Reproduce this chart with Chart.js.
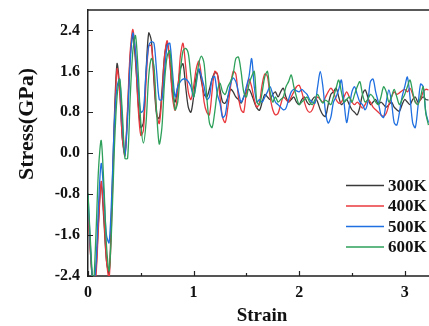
<!DOCTYPE html>
<html>
<head>
<meta charset="utf-8">
<script src="https://cdn.jsdelivr.net/npm/chart.js@4.4.0/dist/chart.umd.min.js"></script>
<style>
  html, body { margin: 0; padding: 0; background: #fff; }
  canvas { display: block; }
</style>
</head>
<body>
<canvas id="stress-chart" width="429" height="326"></canvas>
<script>
/* dados */
var strain = [
  0, 0.025, 0.05, 0.075, 0.1, 0.125, 0.15, 0.175, 0.2, 0.225,
  0.25, 0.275, 0.3, 0.325, 0.35, 0.375, 0.4, 0.425, 0.45, 0.475,
  0.5, 0.525, 0.55, 0.575, 0.6, 0.625, 0.65, 0.675, 0.7, 0.725,
  0.75, 0.775, 0.8, 0.825, 0.85, 0.875, 0.9, 0.925, 0.95, 0.975,
  1.0, 1.025, 1.05, 1.075, 1.1, 1.125, 1.15, 1.175, 1.2, 1.225,
  1.25, 1.275, 1.3, 1.325, 1.35, 1.375, 1.4, 1.425, 1.45, 1.475,
  1.5, 1.525, 1.55, 1.575, 1.6, 1.625, 1.65, 1.675, 1.7, 1.725,
  1.75, 1.775, 1.8, 1.825, 1.85, 1.875, 1.9, 1.925, 1.95, 1.975,
  2.0, 2.025, 2.05, 2.075, 2.1, 2.125, 2.15, 2.175, 2.2, 2.225,
  2.25, 2.275, 2.3, 2.325, 2.35, 2.375, 2.4, 2.425, 2.45, 2.475,
  2.5, 2.525, 2.55, 2.575, 2.6, 2.625, 2.65, 2.675, 2.7, 2.725,
  2.75, 2.775, 2.8, 2.825, 2.85, 2.875, 2.9, 2.925, 2.95, 2.975,
  3.0, 3.025, 3.05, 3.075, 3.1, 3.125, 3.15, 3.175, 3.2, 3.225
];

var s300 = [
  -1.0, -2.0, -2.6, -2.3, -1.3, -0.6, -1.3, -2.1, -2.35, -1.0,
  0.7, 1.75, 1.3, 0.3, 0.0, 0.8, 1.9, 2.3, 1.8, 1.0,
  0.5, 0.6, 1.6, 2.35, 2.2, 1.4, 0.75, 0.68, 1.2, 1.9,
  2.15, 1.8, 1.2, 1.0, 1.3, 1.65, 1.75, 1.3, 0.9, 0.8,
  1.1, 1.5, 1.63, 1.4, 1.15, 1.1, 1.25, 1.45, 1.57, 1.55,
  1.25, 1.0, 0.98, 1.1, 1.25, 1.2, 1.1, 1.05, 0.98, 1.1,
  1.2, 1.25, 1.15, 1.0, 0.88, 0.84, 1.0, 1.15, 1.1, 1.05,
  1.15, 1.2, 1.1, 1.2, 1.27, 1.1, 1.0, 1.05, 1.1, 1.0,
  0.95, 1.05, 1.1, 1.0, 0.95, 1.05, 1.1, 1.0, 0.85, 0.75,
  0.72, 0.95, 1.15, 1.2, 1.27, 1.1, 0.95, 1.0, 1.05, 0.95,
  0.85, 0.8, 0.75, 0.9, 1.15, 1.24, 1.1, 0.95, 1.0, 1.05,
  0.95, 1.0, 0.95, 0.9, 0.95, 1.0, 0.9, 0.85, 0.82, 0.95,
  1.05, 1.0, 0.95, 1.05, 1.1, 1.0, 1.05, 1.1, 1.05, 1.04
];

var s400 = [
  -1.1, -2.0, -2.6, -2.4, -1.4, -0.55, -1.2, -2.1, -2.45, -1.2,
  0.5, 1.65, 1.2, 0.3, -0.05, 0.9, 2.0, 2.42, 1.9, 0.9,
  0.35, 0.45, 1.4, 2.1, 2.1, 1.5, 0.8, 0.58, 1.1, 1.9,
  2.2, 1.8, 1.1, 0.84, 1.2, 1.9, 2.15, 1.7, 1.2, 1.05,
  1.3, 1.65, 1.8, 1.5, 1.0, 0.8, 0.75, 1.2, 1.6, 1.55,
  1.1, 0.7, 0.6, 0.9, 1.3, 1.6, 1.55, 1.1, 0.85, 0.8,
  1.2, 1.45, 1.3, 1.05, 0.9, 1.0, 1.35, 1.55, 1.5, 1.1,
  0.85, 0.75, 0.78, 0.95, 1.1, 1.05, 1.0, 1.1, 1.2, 1.3,
  1.33, 1.2, 1.0, 0.85, 0.8, 0.85, 1.0, 1.1, 1.05, 1.0,
  1.1, 1.2, 1.27, 1.2, 1.05, 0.98, 1.0, 1.1, 1.2, 1.1,
  1.0, 0.95, 1.0, 0.95, 0.88, 0.95, 1.05, 1.0, 0.9, 0.85,
  0.8, 0.75, 0.72, 0.78, 0.95, 1.1, 1.2, 1.15, 1.18, 1.22,
  1.25, 1.2, 1.27, 1.15, 1.0, 0.98, 1.05, 1.2, 1.25, 1.24
];

var s500 = [
  -0.8, -1.9, -2.6, -2.2, -1.0, -0.2, -0.8, -1.6, -1.75, -0.8,
  0.6, 1.3, 1.45, 0.6, -0.05, 0.7, 1.8, 2.35, 2.0, 1.3,
  0.8, 0.85, 1.6, 2.1, 2.18, 2.15, 1.6, 1.05, 1.05, 1.6,
  2.1, 2.15, 1.6, 1.1, 1.3, 1.4, 1.45, 1.45, 1.4, 1.3,
  1.1, 1.35, 1.65, 1.5, 1.3, 1.05, 1.1, 1.45, 1.5, 1.15,
  0.98, 0.7, 0.75, 1.1, 1.35, 1.47, 1.4, 1.2, 1.0, 1.1,
  1.3, 1.5, 1.85, 1.3, 1.0, 1.05, 1.0, 1.1, 1.2, 1.3,
  1.15, 1.0, 0.95, 0.9, 0.85, 0.88, 1.05, 1.2, 1.25, 1.22,
  1.2, 1.25, 1.2, 1.15, 1.05, 1.0, 0.98, 1.3, 1.6, 1.3,
  0.8, 0.59, 0.7, 1.0, 1.1, 1.25, 1.43, 1.0, 0.6, 0.9,
  1.2, 1.3, 1.15, 1.0, 0.95, 0.85, 1.0, 1.4, 1.45, 1.2,
  1.0, 0.75, 0.7, 1.0, 1.24, 1.0, 0.6, 0.55, 0.8, 1.1,
  1.3, 1.49, 1.1, 0.6, 0.5, 0.9, 1.35, 1.3, 0.8, 0.6
];

var s600 = [
  -0.78, -1.8, -2.6, -1.6, -0.3, 0.25, -0.6, -1.8, -2.3, -1.4,
  0.1, 1.1, 1.45, 0.8, -0.1, -0.1, 1.1, 2.0, 2.3, 1.6,
  0.6, 0.2, 0.6, 1.5, 1.85, 1.7, 0.8, 0.18, 0.5, 1.4,
  1.9, 2.0, 1.4, 0.85, 1.0, 1.6, 2.0, 2.05, 1.95, 1.5,
  1.1, 1.4, 1.76, 1.9, 1.75, 1.1, 0.6, 0.5, 0.8, 1.2,
  1.37, 1.2, 1.15, 1.3, 1.4, 1.55, 1.85, 1.88, 1.6, 1.2,
  1.1, 1.35, 1.5, 1.6, 1.0, 0.95, 1.2, 1.5, 1.6, 1.2,
  1.0, 1.1, 1.0, 1.05, 1.1, 1.3, 1.4, 1.53, 1.3, 1.1,
  0.95, 1.0, 1.05, 1.1, 1.0, 0.95, 1.05, 1.15, 1.05, 0.98,
  1.04, 1.0, 0.95, 1.1, 1.27, 1.43, 1.2, 1.0, 1.05, 1.1,
  1.0, 1.15, 1.3, 1.4, 1.15, 1.0, 1.05, 1.15, 1.1, 1.0,
  0.95, 1.1, 1.3, 1.2, 1.0, 1.1, 1.25, 1.1, 0.95, 1.05,
  1.15, 1.3, 1.43, 1.2, 1.0, 0.95, 1.1, 1.3, 0.78, 0.55
];

var nomes = ['300K', '400K', '500K', '600K'];
var cores = ['#3a3a3a', '#e8383d', '#1f6fe0', '#2ea05a'];
var xTicks = [0, 1, 2, 3];
var xMinor = [0.5, 1.5, 2.5];
var yTicks = [-2.4, -1.6, -0.8, 0, 0.8, 1.6, 2.4];

var fonte = '"Liberation Serif", "Times New Roman", serif';

function pontos(vals) {
  return strain.map(function (x, i) { return { x: x, y: vals[i] }; });
}

/* moldura, ticks para dentro, legenda e títulos */
var moldura = {
  id: 'moldura',
  afterDraw: function (chart) {
    var ctx = chart.ctx, a = chart.chartArea;
    var sx = chart.scales.x, sy = chart.scales.y;
    ctx.save();
    ctx.strokeStyle = '#222';
    ctx.lineWidth = 1.5;
    ctx.beginPath();
    ctx.moveTo(a.left, a.top);
    ctx.lineTo(a.right, a.top);
    ctx.stroke();

    ctx.lineWidth = 1.2;
    ctx.beginPath();
    xTicks.forEach(function (v) {
      var p = Math.round(sx.getPixelForValue(v)) + 0.5;
      ctx.moveTo(p, a.bottom);
      ctx.lineTo(p, a.bottom - 5);
    });
    xMinor.forEach(function (v) {
      var p = Math.round(sx.getPixelForValue(v)) + 0.5;
      ctx.moveTo(p, a.bottom);
      ctx.lineTo(p, a.bottom - 3);
    });
    yTicks.forEach(function (v) {
      var p = Math.round(sy.getPixelForValue(v)) + 0.5;
      ctx.moveTo(a.left, p);
      ctx.lineTo(a.left + 5, p);
    });
    ctx.stroke();

    // legenda
    var ys = [185.5, 206, 226.5, 247];
    ctx.font = 'bold 17px ' + fonte;
    ctx.textBaseline = 'middle';
    ctx.textAlign = 'left';
    for (var i = 0; i < nomes.length; i++) {
      ctx.strokeStyle = cores[i];
      ctx.lineWidth = 1.3;
      ctx.beginPath();
      ctx.moveTo(346, ys[i]);
      ctx.lineTo(384, ys[i]);
      ctx.stroke();
      ctx.fillStyle = '#111';
      ctx.fillText(nomes[i], 388, ys[i] + 1);
    }

    // títulos dos eixos
    ctx.fillStyle = '#111';
    ctx.textAlign = 'center';
    ctx.font = 'bold 19px ' + fonte;
    ctx.fillText('Strain', 262, 316);
    ctx.translate(27, 124);
    ctx.rotate(-Math.PI / 2);
    ctx.font = 'bold 22px ' + fonte;
    ctx.fillText('Stress(GPa)', 0, 0);
    ctx.restore();
  }
};

var series = [s300, s400, s500, s600];
var datasets = series.map(function (vals, i) {
  return {
    label: nomes[i],
    data: pontos(vals),
    borderColor: cores[i],
    borderWidth: 1.3,
    pointRadius: 0,
    tension: 0.3,
    fill: false,
    order: 3 - i
  };
});

var ctx = document.getElementById('stress-chart').getContext('2d');
var chart = new Chart(ctx, {
  type: 'line',
  data: { datasets: datasets },
  plugins: [moldura],
  options: {
    responsive: false,
    animation: false,
    layout: { padding: { top: 10, left: 0, right: 0, bottom: 0 } },
    plugins: {
      legend: { display: false },
      tooltip: { enabled: false }
    },
    scales: {
      x: {
        type: 'linear',
        min: 0,
        max: 3.23,
        afterBuildTicks: function (s) { s.ticks = xTicks.map(function (v) { return { value: v }; }); },
        afterFit: function (s) { s.height = 50; s.paddingLeft = 0; s.paddingRight = 0; },
        grid: { display: false, drawTicks: false },
        border: { display: true, color: '#555', width: 2 },
        ticks: {
          padding: 7,
          maxRotation: 0,
          color: '#111',
          font: { family: fonte, size: 16, weight: 'bold' },
          callback: function (v) { return String(v); }
        }
      },
      y: {
        type: 'linear',
        min: -2.4,
        max: 2.8,
        afterBuildTicks: function (s) { s.ticks = yTicks.map(function (v) { return { value: v }; }); },
        afterFit: function (s) { s.width = 88; s.paddingTop = 0; s.paddingBottom = 0; },
        grid: { display: false, drawTicks: false },
        border: { display: true, color: '#222', width: 1.5 },
        ticks: {
          padding: 8,
          color: '#111',
          font: { family: fonte, size: 16, weight: 'bold' },
          callback: function (v) { return v.toFixed(1); }
        }
      }
    }
  }
});
</script>
</body>
</html>
